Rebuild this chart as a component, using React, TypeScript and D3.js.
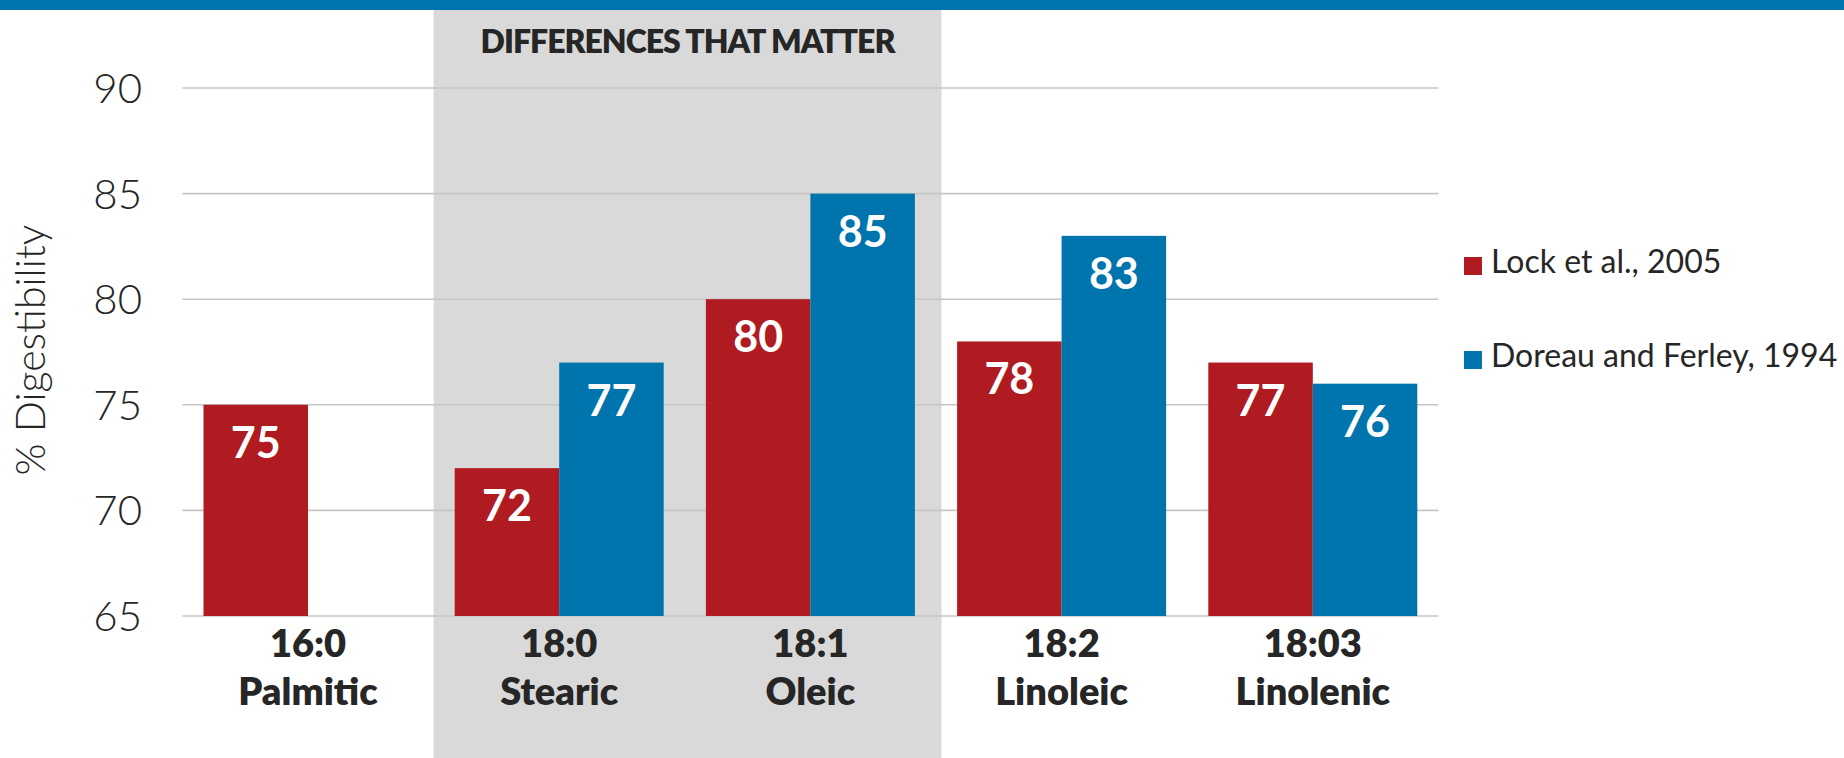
import React from "react";
import * as d3 from "d3";

const categoriesTop = ["16:0", "18:0", "18:1", "18:2", "18:03"];
const categoriesBottom = ["Palmitic", "Stearic", "Oleic", "Linoleic", "Linolenic"];
const seriesNames = ["Lock et al., 2005", "Doreau and Ferley, 1994"];
const lockValues: (number | null)[] = [75, 72, 80, 78, 77];
const doreauValues: (number | null)[] = [null, 77, 85, 83, 76];
const yTicks = [65, 70, 75, 80, 85, 90];
const highlightTitle = "DIFFERENCES THAT MATTER";
const highlightCats = ["18:0", "18:1"];

const W = 1844;
const H = 758;
const RED = "#b01a21";
const BLUE = "#0074ad";
const GRAY = "#d9d9d9";
const GRID = "#c6c6c6";
const TEXT = "#262626";
const FONT = "Lato, 'Open Sans', sans-serif";

export default function App() {
  const left = 182.4;
  const right = 1438.4;
  const top = 88;
  const bottom = 616;

  const x = d3.scaleBand<string>().domain(categoriesTop).range([left, right]).paddingInner(0).paddingOuter(0);
  const y = d3.scaleLinear().domain([65, 90]).range([bottom, top]);
  const barW = 104.5;
  const series = [lockValues, doreauValues];
  const colors = [RED, BLUE];

  const hx0 = x(highlightCats[0])!;
  const hx1 = x(highlightCats[highlightCats.length - 1])! + x.bandwidth() + 5.5;

  return (
    <svg width={W} height={H} style={{ display: "block", position: "absolute", left: 0, top: 0 }}>
      <rect x={0} y={0} width={W} height={H} fill="#ffffff" />
      <rect x={0} y={0} width={W} height={10} fill={BLUE} />
      <rect x={hx0} y={10} width={hx1 - hx0} height={H - 10} fill={GRAY} />
      <text x={(hx0 + hx1) / 2} y={53} textAnchor="middle" fontFamily={FONT} fontWeight={800} fontSize={32} fill={TEXT} letterSpacing={-1}>
        {highlightTitle}
      </text>

      {yTicks.map((t) => (
        <g key={t}>
          <line x1={left} x2={right} y1={y(t)} y2={y(t)} stroke={GRID} strokeWidth={1.6} />
          <text x={142} y={y(t) + 15} textAnchor="end" fontFamily={FONT} fontWeight={300} fontSize={42} fill={TEXT}>
            {t}
          </text>
        </g>
      ))}

      <text transform={`translate(45, 350) rotate(-90)`} textAnchor="middle" fontFamily={FONT} fontWeight={300} fontSize={41} fill={TEXT}>
        % Digestibility
      </text>

      {categoriesTop.map((c, i) => {
        const cx = x(c)! + x.bandwidth() / 2;
        return (
          <g key={c}>
            {series.map((s, si) => {
              const v = s[i];
              if (v == null) return null;
              const bx = cx - barW + si * barW;
              return (
                <g key={si}>
                  <rect x={bx} y={y(v)} width={barW} height={y(65) - y(v)} fill={colors[si]} />
                  <text x={bx + barW / 2} y={y(v) + 53} textAnchor="middle" fontFamily={FONT} fontWeight={700} fontSize={43} fill="#ffffff">
                    {v}
                  </text>
                </g>
              );
            })}
            <text x={cx} y={bottom + 41} textAnchor="middle" fontFamily={FONT} fontWeight={800} fontSize={38} fill={TEXT}>
              {c}
            </text>
            <text x={cx} y={bottom + 89} textAnchor="middle" fontFamily={FONT} fontWeight={800} fontSize={38} fill={TEXT}>
              {categoriesBottom[i]}
            </text>
          </g>
        );
      })}

      {seriesNames.map((n, i) => (
        <g key={n} transform={`translate(0, ${i * 94})`}>
          <rect x={1464} y={257} width={18} height={18} fill={colors[i]} />
          <text x={1491} y={273} fontFamily={FONT} fontWeight={400} fontSize={32} fill={TEXT}>
            {n}
          </text>
        </g>
      ))}
    </svg>
  );
}
